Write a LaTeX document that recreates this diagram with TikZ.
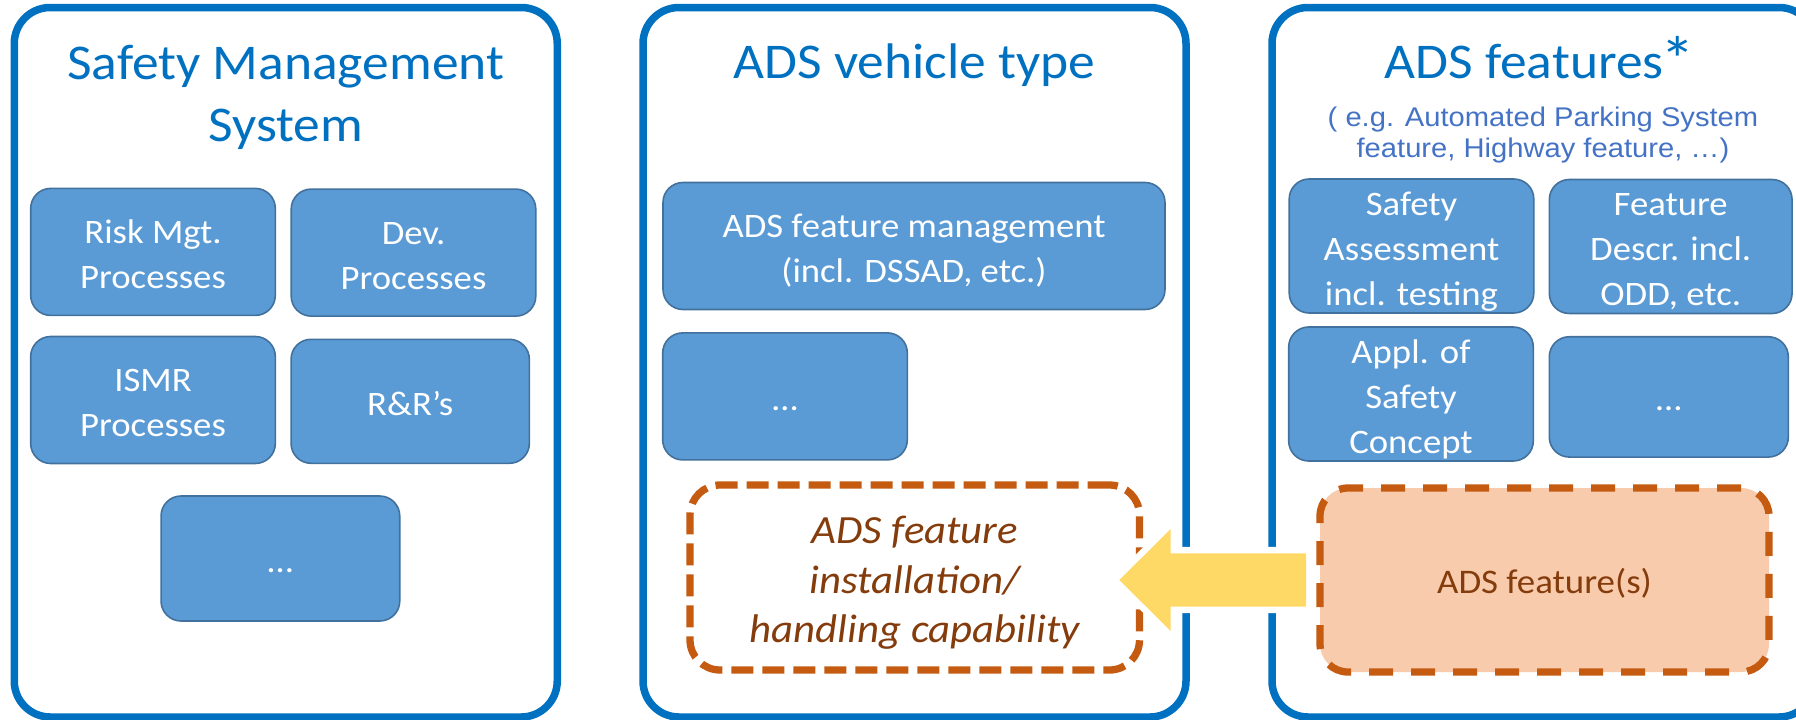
\documentclass[tikz,border=0pt]{standalone}
\usepackage{fontspec}
\usepackage{graphicx}
\setmainfont[FakeStretch=1.07]{Carlito}
\newfontfamily\arialfont[FakeStretch=1.08]{Liberation Sans}
\definecolor{panelblue}{HTML}{0070C0}
\definecolor{boxfill}{HTML}{5B9BD5}
\definecolor{boxborder}{HTML}{41719C}
\definecolor{subblue}{HTML}{4472C4}
\definecolor{dashorange}{HTML}{C55A11}
\definecolor{darkbrown}{HTML}{843C0C}
\definecolor{peach}{HTML}{F8CBAD}
\definecolor{arrowyellow}{HTML}{FFD966}
\tikzset{
  panel/.style={draw=panelblue, line width=7.5pt, rounded corners=36pt, minimum width=543pt, minimum height=709.5pt, inner sep=0pt},
  paneltitle/.style={text=panelblue, font=\fontsize{50}{62}\selectfont, align=center, inner sep=0pt},
  bluebox/.style={draw=boxborder, fill=boxfill, line width=1.6pt, rounded corners=20pt, text=white,
    font=\fontsize{34.3}{45}\selectfont, align=center, inner sep=0pt, minimum width=244.6pt, minimum height=127pt},
  dashbox/.style={draw=dashorange, line width=7.3pt, dash pattern=on 22pt off 9pt, rounded corners=30pt, inner sep=0pt, align=center, text=darkbrown}
}
\newcommand{\bs}{\rule{0pt}{36pt}}
\newcommand{\es}{\rule[-8pt]{0pt}{8pt}}
\begin{document}
\begin{tikzpicture}[x=1pt,y=-1pt]
\useasboundingbox (0,0) rectangle (1796,720);
\clip (0,0) rectangle (1796,720);
% panels
\node[panel] (smsp) at (285.75,362.25) {};
\node[panel] (vehp) at (914.5,362.25) {};
\node[panel] (featp) at (1543.5,362.25) {};
% titles
\node[paneltitle] (smst) at (285.75,97) {Safety Management\\System};
\node[paneltitle, anchor=base] (veht) at (914.5,78) {ADS vehicle type};
\node[paneltitle, anchor=base] (featt) at (1540,78) {ADS features\kern-0.06em\raisebox{-0.08em}{\scalebox{1.3}{*}}};
\node[text=subblue, font=\arialfont\fontsize{27}{31}\selectfont, align=center, inner sep=0pt] (feats) at (1543,135.3)
  {( e.g. Automated Parking System\\feature, Highway feature, …)};
% left panel boxes
\node[bluebox] (risk) at (153,251.9) {\bs Risk Mgt.\\Processes\es};
\node[bluebox] (dev) at (413.5,252.6) {\bs Dev.\\Processes\es};
\node[bluebox] (ismr) at (153,400) {\bs ISMR\\Processes\es};
\node[bluebox, minimum width=238.3pt, minimum height=124pt] (rr) at (410.2,401.3) {\bs R\&R’s\es};
\node[bluebox, minimum width=238.7pt, minimum height=125pt] (smsdots) at (280.4,558.5) {\bs …\es};
% middle panel boxes
\node[bluebox, minimum width=502pt] (mgmt) at (914,246) {\bs ADS feature management\\(incl. DSSAD, etc.)\es};
\node[bluebox] (vehdots) at (785,396.4) {\bs …\es};
\node[dashbox, minimum width=449.5pt, minimum height=185pt, font=\itshape\fontsize{40}{49.5}\selectfont] (install) at (914.75,577.5)
  {\rule{0pt}{38pt}ADS feature\\installation/\\handling capability};
% right panel boxes
\node[bluebox] (assess) at (1411.5,246) {\bs Safety\\Assessment\\incl. testing\es};
\node[bluebox, minimum width=242.7pt] (descr) at (1670.7,246.5) {\bs Feature\\Descr. incl.\\ODD, etc.\es};
\node[bluebox] (appl) at (1411,394) {\bs Appl. of\\Safety\\Concept\es};
\node[bluebox, minimum width=239pt, minimum height=120.3pt] (featdots) at (1668.8,396.9) {\bs …\es};
\node[dashbox, fill=peach, dash pattern=on 24pt off 18pt, rounded corners=28pt, minimum width=449pt, minimum height=184pt,
  font=\fontsize{34.5}{44}\selectfont] (features) at (1544.5,580) {\rule{0pt}{32pt}ADS feature(s)};
% arrow
\coordinate (atip) at (1119.3,580);
\fill[arrowyellow, preaction={draw=white, line width=13pt, line join=miter}]
  (atip) -- ++(51.4,-51) -- ++(0,24.3) -- ++(135.3,0) -- ++(0,53.4) -- ++(-135.3,0) -- ++(0,24.3) -- cycle;
\end{tikzpicture}
\end{document}
